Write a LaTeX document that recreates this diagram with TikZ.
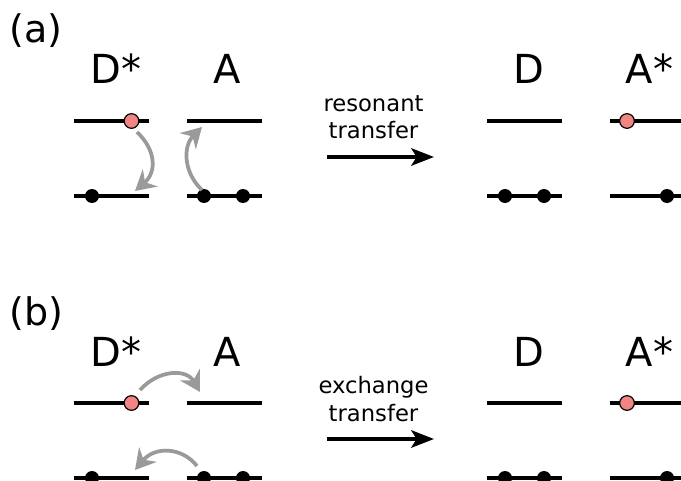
\documentclass[tikz,border=0pt]{standalone}
\usepackage{fontspec}
\setmainfont{DejaVu Sans}
\usetikzlibrary{arrows.meta}
\definecolor{elec}{HTML}{F28482}
\definecolor{arrgray}{HTML}{9A9A9A}
\begin{document}
\begin{tikzpicture}[x=0.75pt,y=-0.75pt,
  lvl/.style={line width=3.6pt},
  big/.style={anchor=base,inner sep=0pt,font=\fontsize{30}{36}\selectfont},
  panel/.style={anchor=base west,inner sep=0pt,font=\fontsize{28.5}{34}\selectfont},
  small/.style={align=center,inner sep=0pt,font=\fontsize{17}{20.5}\selectfont},
  excited/.style={circle,draw=black,line width=0.9pt,fill=elec,minimum size=11pt,inner sep=0pt},
  ground/.style={circle,fill=black,minimum size=10.5pt,inner sep=0pt},
  hop/.style={draw=arrgray,line width=2.8pt,-{Stealth[length=15pt,width=17pt,inset=5pt]}},
  main/.style={draw=black,line width=3pt,-{Stealth[length=17pt,width=13pt,inset=4pt]}}]
\useasboundingbox (0,0) rectangle (681,481);
\foreach \dy/\lab/\wa/\wb in {0/a/resonant/transfer,282/b/exchange/transfer}{
\begin{scope}[shift={(0,\dy)}]
  \node[panel] (pl\lab) at (9,43) {(\lab)};
  \node[big] (ds\lab) at (116,84) {D*};
  \node[big] (a\lab) at (227,84) {A};
  \node[big] (d\lab) at (529,84) {D};
  \node[big] (as\lab) at (649.5,84) {A*};
  % left levels
  \draw[lvl] (74,121) -- (149,121);
  \draw[lvl] (74,196) -- (149,196);
  \draw[lvl] (187,121) -- (262,121);
  \draw[lvl] (187,196) -- (262,196);
  % right levels
  \draw[lvl] (487,121) -- (562,121);
  \draw[lvl] (487,196) -- (562,196);
  \draw[lvl] (610,121) -- (685,121);
  \draw[lvl] (610,196) -- (685,196);
  % electrons
  \node[excited] (e1\lab) at (131.5,121) {};
  \node[ground] (g1\lab) at (92,196) {};
  \node[ground] (g2\lab) at (204,196) {};
  \node[ground] (g3\lab) at (243,196) {};
  \node[ground] (g4\lab) at (505,196) {};
  \node[ground] (g5\lab) at (544,196) {};
  \node[excited] (e2\lab) at (627,121) {};
  \node[ground] (g6\lab) at (667,196) {};
  % transfer arrow
  \node[small] (t\lab) at (373.5,117) {\wa\\\wb};
  \coordinate (ms\lab) at (327,157);
  \coordinate (me\lab) at (434,157);
  \draw[main] (ms\lab) -- (me\lab);
\end{scope}}
% resonant hops
\coordinate (r1s) at (137,132);
\coordinate (r1e) at (135,191);
\coordinate (r2s) at (202,190);
\coordinate (r2e) at (202,127);
\draw[hop] (r1s) .. controls (156,150) and (157,172) .. (r1e);
\draw[hop] (r2s) .. controls (183,172) and (183,146) .. (r2e);
% exchange hops
\coordinate (x1s) at (140,390);
\coordinate (x1e) at (200,392);
\coordinate (x2s) at (197,466);
\coordinate (x2e) at (135,470);
\draw[hop] (x1s) .. controls (158,370) and (186,368) .. (x1e);
\draw[hop] (x2s) .. controls (182,447) and (155,446) .. (x2e);
\end{tikzpicture}
\end{document}
